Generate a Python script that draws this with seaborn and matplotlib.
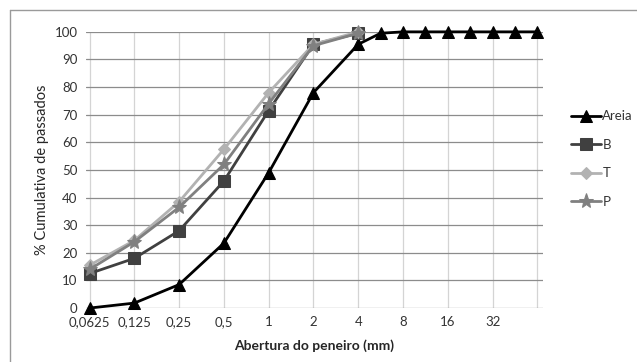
# Curvas granulometricas - % cumulativa de passados por abertura do peneiro
import matplotlib.pyplot as plt
import pandas as pd
import seaborn as sns
from matplotlib.lines import Line2D

# Data
sieve_labels = ['0,0625', '0,125', '0,25', '0,5', '1', '2', '4', '8', '16', '32']
sieve_pos = [0, 1, 2, 3, 4, 5, 6, 7, 8, 9]

areia_x = [0, 1, 2, 3, 4, 5, 6, 6.5, 7, 7.5, 8, 8.5, 9, 9.5, 10]
areia_y = [0, 1.8, 8.5, 23.5, 49, 78, 95.5, 99.5, 100, 100, 100, 100, 100, 100, 100]

mix_x = [0, 1, 2, 3, 4, 5, 6]
b_y = [12.5, 18, 28, 46, 71.5, 95.5, 99.5]
t_y = [15.5, 24.5, 38.5, 57.5, 78, 95.5, 100]
p_y = [14, 24, 36.5, 52, 74, 95, 99.5]

series = [
    ('Areia', areia_x, areia_y, '#000000', '^', 9),
    ('B', mix_x, b_y, '#404040', 's', 8),
    ('T', mix_x, t_y, '#b2b2b2', 'D', 6),
    ('P', mix_x, p_y, '#808080', '*', 11),
]

sns.set_style('white')
plt.rcParams['font.family'] = ['Lato', 'DejaVu Sans']

fig = plt.figure(figsize=(6.37, 3.62), dpi=100)
ax = fig.add_axes([0.135, 0.149, 0.717, 0.763])

for name, xs, ys, color, marker, ms in series:
    df = pd.DataFrame({'x': xs, 'y': ys})
    sns.lineplot(x='x', y='y', data=df, ax=ax, color=color, marker=marker,
                 markersize=ms, markeredgecolor=color, linewidth=2,
                 label=name, zorder=3, clip_on=False)

# gridlines: horizontal darker, vertical lighter
for v in range(0, 101, 10):
    ax.axhline(v, color='#8c8c8c', linewidth=0.9, zorder=1)
for p in sieve_pos + [10]:
    ax.axvline(p, color='#d4d4d4', linewidth=0.9, zorder=0)

ax.set_xlim(-0.08, 10.12)
ax.set_ylim(0, 100)
ax.set_xticks(sieve_pos)
ax.set_xticklabels(sieve_labels)
ax.set_yticks(range(0, 101, 10))
ax.tick_params(axis='both', labelsize=9.5, colors='#333333', length=0, pad=6)
for s in ax.spines.values():
    s.set_visible(False)

ax.set_xlabel('Abertura do peneiro (mm)', fontsize=10, fontweight='bold', labelpad=8)
ax.set_ylabel('% Cumulativa de passados', fontsize=10.5, labelpad=4)

leg = ax.legend(loc='center left', bbox_to_anchor=(1.035, 0.54), frameon=False,
                fontsize=9.5, handlelength=2.3, labelspacing=1.25, handletextpad=0.1)
for t in leg.get_texts():
    t.set_color('#333333')

# outer chart frame
fig.add_artist(Line2D([10 / 637, 10 / 637], [0, 1 - 10 / 362], color='#9a9a9a', linewidth=1))
fig.add_artist(Line2D([10 / 637, 1], [1 - 10 / 362, 1 - 10 / 362], color='#9a9a9a', linewidth=1))

plt.savefig('out.png', dpi=100)
